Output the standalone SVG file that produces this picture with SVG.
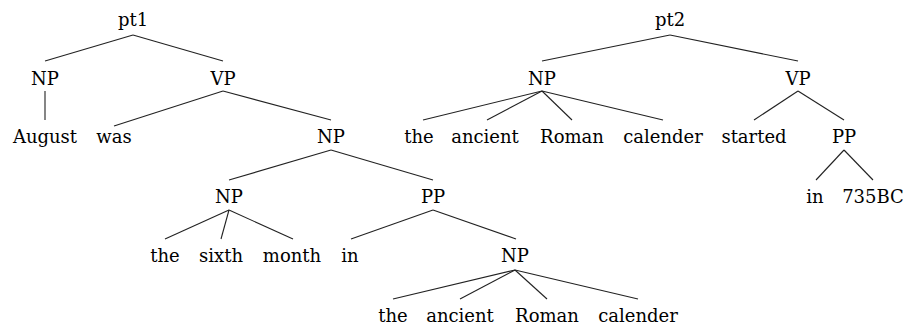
<svg xmlns="http://www.w3.org/2000/svg" width="909" height="329" viewBox="0 0 909 329">
<style>
.t text{font-family:'DejaVu Serif','Liberation Serif',serif;font-size:18px;fill:#000;text-anchor:middle}
.e line{stroke:#222;stroke-width:1.1;fill:none}
</style>
<rect width="909" height="329" fill="#fff"/>
<g class="e" id="connectors">
<line x1="133" y1="35" x2="45" y2="61"/>
<line x1="133" y1="35" x2="223" y2="61"/>
<line x1="45" y1="91" x2="45" y2="120"/>
<line x1="223" y1="91" x2="114" y2="126"/>
<line x1="223" y1="91" x2="331" y2="120"/>
<line x1="331" y1="150" x2="229" y2="180"/>
<line x1="331" y1="150" x2="433" y2="180"/>
<line x1="229" y1="210" x2="165" y2="239"/>
<line x1="229" y1="210" x2="221" y2="239"/>
<line x1="229" y1="210" x2="293" y2="239"/>
<line x1="433" y1="210" x2="351" y2="239"/>
<line x1="433" y1="210" x2="516" y2="239"/>
<line x1="515" y1="270" x2="393" y2="299"/>
<line x1="515" y1="270" x2="460" y2="299"/>
<line x1="515" y1="270" x2="547" y2="299"/>
<line x1="515" y1="270" x2="638" y2="299"/>
<line x1="670" y1="35" x2="542" y2="61"/>
<line x1="670" y1="35" x2="798" y2="61"/>
<line x1="542" y1="91" x2="423" y2="120"/>
<line x1="542" y1="91" x2="487" y2="120"/>
<line x1="542" y1="91" x2="572" y2="120"/>
<line x1="542" y1="91" x2="663" y2="120"/>
<line x1="798" y1="91" x2="754" y2="120"/>
<line x1="798" y1="91" x2="844" y2="120"/>
<line x1="844" y1="150" x2="816" y2="180"/>
<line x1="844" y1="150" x2="873" y2="180"/>
</g>
<g class="t">
<g id="n-pt1"><text x="133" y="26">pt1</text></g>
<g id="n-np1"><text x="45" y="85">NP</text></g>
<g id="n-vp1"><text x="223" y="85">VP</text></g>
<g id="n-august"><text x="45" y="143">August</text></g>
<g id="n-was"><text x="114" y="143">was</text></g>
<g id="n-np2"><text x="331" y="143">NP</text></g>
<g id="n-np3"><text x="229" y="203">NP</text></g>
<g id="n-pp1"><text x="433" y="203">PP</text></g>
<g id="n-the1"><text x="165" y="262">the</text></g>
<g id="n-sixth"><text x="221" y="262">sixth</text></g>
<g id="n-month"><text x="292" y="262">month</text></g>
<g id="n-in1"><text x="350" y="262">in</text></g>
<g id="n-np4"><text x="515" y="262">NP</text></g>
<g id="n-the2"><text x="393" y="322">the</text></g>
<g id="n-ancient2"><text x="460" y="322">ancient</text></g>
<g id="n-roman2"><text x="547" y="322">Roman</text></g>
<g id="n-calender2"><text x="638" y="322">calender</text></g>
<g id="n-pt2"><text x="670" y="26">pt2</text></g>
<g id="n-np5"><text x="542" y="85">NP</text></g>
<g id="n-vp2"><text x="798" y="85">VP</text></g>
<g id="n-the3"><text x="419" y="143">the</text></g>
<g id="n-ancient3"><text x="485" y="143">ancient</text></g>
<g id="n-roman3"><text x="572" y="143">Roman</text></g>
<g id="n-calender3"><text x="663" y="143">calender</text></g>
<g id="n-started"><text x="754" y="143">started</text></g>
<g id="n-pp2"><text x="844" y="143">PP</text></g>
<g id="n-in2"><text x="815" y="203">in</text></g>
<g id="n-735bc"><text x="873" y="203">735BC</text></g>
</g>
</svg>
